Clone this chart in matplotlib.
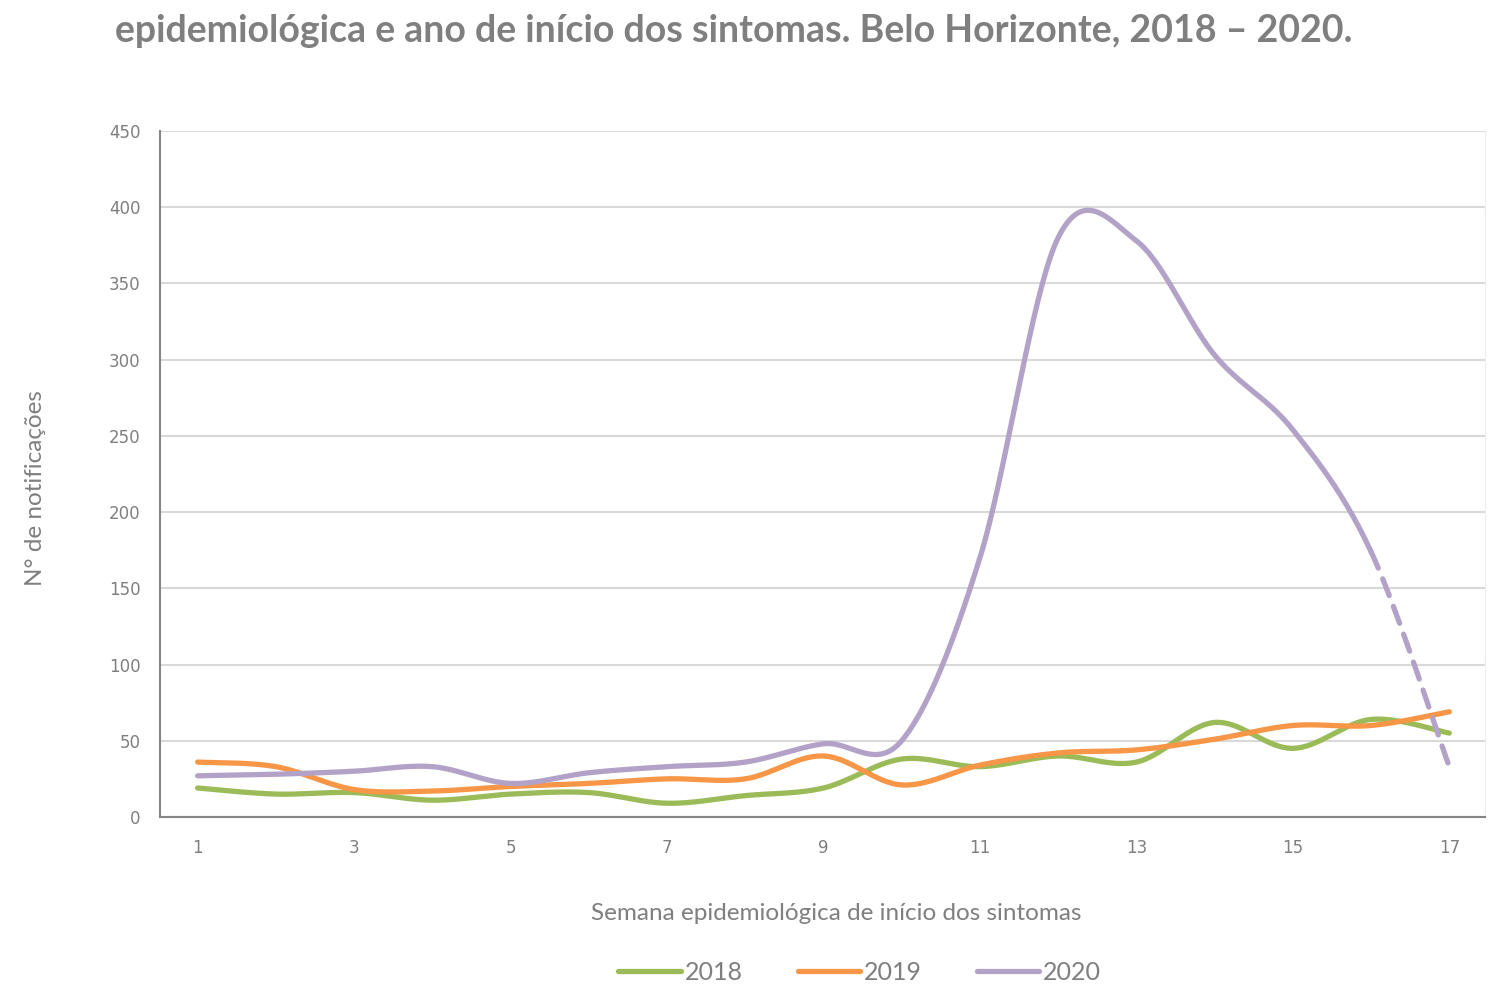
import numpy as np
import matplotlib.pyplot as plt

weeks = list(range(1, 18))
casos_2018 = [19, 15, 16, 11, 15, 16, 9, 14, 19, 38, 33, 40, 36, 62, 45, 64, 55]
casos_2019 = [36, 33, 18, 17, 20, 22, 25, 25, 40, 21, 34, 42, 44, 51, 60, 60, 69]
casos_2020 = [27, 28, 30, 33, 22, 29, 33, 36, 48, 50, 170, 380, 378, 303, 254, 174, 33]
anos = ['2018', '2019', '2020']
cores = ['#9BBB59', '#F79646', '#B3A2C7']

titulo = 'epidemiológica e ano de início dos sintomas. Belo Horizonte, 2018 – 2020.'

gray = '#7F7F7F'


def suaviza(x, y, n=40):
    # curva suavizada tipo Excel (bezier / catmull-rom)
    x = np.asarray(x, float)
    y = np.asarray(y, float)
    xs, ys = [], []
    t = np.linspace(0, 1, n)
    for i in range(len(x) - 1):
        i0 = max(i - 1, 0)
        i3 = min(i + 2, len(x) - 1)
        p0 = np.array([x[i], y[i]])
        p3 = np.array([x[i + 1], y[i + 1]])
        c1 = p0 + (np.array([x[i + 1], y[i + 1]]) - np.array([x[i0], y[i0]])) / 6
        c2 = p3 - (np.array([x[i3], y[i3]]) - np.array([x[i], y[i]])) / 6
        b = ((1 - t) ** 3)[:, None] * p0 + (3 * (1 - t) ** 2 * t)[:, None] * c1 \
            + (3 * (1 - t) * t ** 2)[:, None] * c2 + (t ** 3)[:, None] * p3
        xs.extend(b[:, 0])
        ys.extend(b[:, 1])
    return np.array(xs), np.array(ys)


fig = plt.figure(figsize=(14.89, 9.85), dpi=100)
ax = fig.add_axes([0.1075, 0.1706, 0.89, 0.6964])

lw = 3.8
for ano, vals, cor in zip(anos, [casos_2018, casos_2019, casos_2020], cores):
    xs, ys = suaviza(weeks, vals)
    if ano == '2020':
        m = xs <= 16
        ax.plot(xs[m], ys[m], color=cor, lw=lw, solid_capstyle='round', label=ano)
        m2 = xs >= 16
        ax.plot(xs[m2], ys[m2], color=cor, lw=lw, ls=(0, (3.4, 2.2)), dash_capstyle='round')
    else:
        ax.plot(xs, ys, color=cor, lw=lw, solid_capstyle='round', label=ano)

ax.set_xlim(0.52, 17.46)
ax.set_ylim(0, 450)
ax.set_yticks(range(0, 451, 50))
ax.set_xticks(range(1, 18, 2))
ax.grid(axis='y', color='#D9D9D9', lw=1.5)
ax.set_axisbelow(True)
ax.tick_params(length=0, labelsize=12, colors=gray)
ax.tick_params(axis='x', pad=16)
ax.tick_params(axis='y', pad=14)
for s in ['left', 'bottom']:
    ax.spines[s].set_color('#868686')
    ax.spines[s].set_linewidth(1.5)
ax.spines['top'].set_visible(False)
ax.spines['right'].set_color('#EEEEEE')

ax.set_xlabel('Semana epidemiológica de início dos sintomas', fontsize=17.5,
              color=gray, family='Lato')
ax.xaxis.set_label_coords(0.5105, -0.125)
ax.set_ylabel('N° de notificações', fontsize=17.5, color=gray, family='Lato')
ax.yaxis.set_label_coords(-0.086, 0.48)

fig.text(0.493, 0.969, titulo, ha='center', va='center', fontsize=27,
         fontweight='bold', color=gray, family='Lato')

leg = ax.legend(loc='center', bbox_to_anchor=(0.528, -0.227), ncol=3, frameon=False,
                fontsize=18, handlelength=2.5, columnspacing=2.2, handletextpad=0.15)
for t in leg.get_texts():
    t.set_color(gray)
    t.set_family('Lato')

fig.savefig('out.png', dpi=100)
